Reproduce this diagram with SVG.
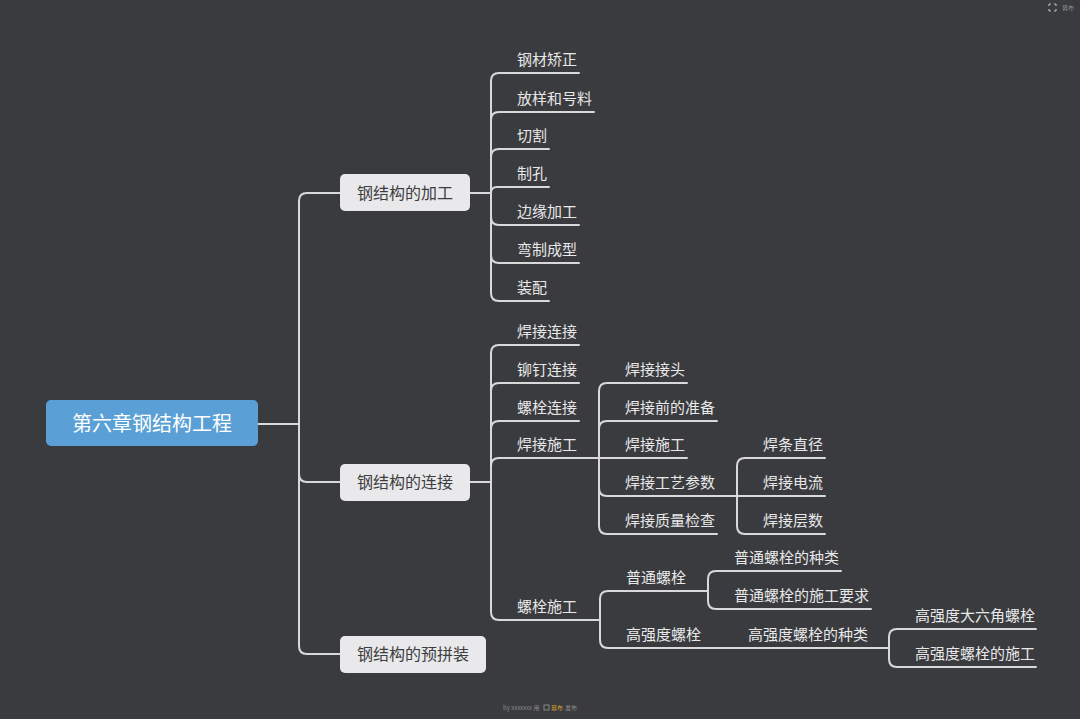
<svg xmlns="http://www.w3.org/2000/svg" width="1080" height="719" viewBox="0 0 1080 719">
<style>
.bg{fill:#3a3b3f}
.c{fill:none;stroke:#d9d9d9;stroke-width:2;stroke-linecap:round;stroke-linejoin:round}
.t{font-family:"Noto Sans CJK SC","Noto Sans",sans-serif;font-size:15px;fill:#e8e8e8}
.l1 rect{fill:#e9e9eb}
.l1 text{font-family:"Noto Sans CJK SC","Noto Sans",sans-serif;font-size:16px;fill:#3d3d3f;text-anchor:middle}
.wm{font-family:"Noto Sans CJK SC","Noto Sans",sans-serif;font-size:6px;fill:#8c8c8c}
</style>
<rect class="bg" x="0" y="0" width="1080" height="719"/>

<g id="connectors">
<!-- root to level 1 -->
<path class="c" d="M258 424 H299 V201 Q299 193 307 193 H340"/>
<path class="c" d="M258 424 H299 V474 Q299 482 307 482 H340"/>
<path class="c" d="M258 424 H299 V646 Q299 654 307 654 H340"/>
<!-- 钢结构的加工 -->
<path class="c" d="M470 193 H491 V81 Q491 73 499 73 H579"/>
<path class="c" d="M470 193 H491 V120 Q491 112 499 112 H594"/>
<path class="c" d="M470 193 H491 V157 Q491 149 499 149 H549"/>
<path class="c" d="M470 193 H491 V193 Q491 187 497 187 H549"/>
<path class="c" d="M470 193 H491 V217 Q491 225 499 225 H579"/>
<path class="c" d="M470 193 H491 V255 Q491 263 499 263 H579"/>
<path class="c" d="M470 193 H491 V293 Q491 301 499 301 H549"/>
<!-- 钢结构的连接 -->
<path class="c" d="M470 482 H491 V353 Q491 345 499 345 H579"/>
<path class="c" d="M470 482 H491 V391 Q491 383 499 383 H579"/>
<path class="c" d="M470 482 H491 V429 Q491 421 499 421 H579"/>
<path class="c" d="M470 482 H491 V466 Q491 458 499 458 H599"/>
<path class="c" d="M470 482 H491 V612 Q491 620 499 620 H600"/>
<!-- 焊接施工 -->
<path class="c" d="M599 458 V391 Q599 383 607 383 H687"/>
<path class="c" d="M599 458 V429 Q599 421 607 421 H717"/>
<path class="c" d="M599 458 H687"/>
<path class="c" d="M599 458 V488 Q599 496 607 496 H737"/>
<path class="c" d="M599 458 V526 Q599 534 607 534 H717"/>
<!-- 焊接工艺参数 -->
<path class="c" d="M737 496 V466 Q737 458 745 458 H825"/>
<path class="c" d="M737 496 H825"/>
<path class="c" d="M737 496 V526 Q737 534 745 534 H825"/>
<!-- 螺栓施工 -->
<path class="c" d="M600 620 V599 Q600 591 608 591 H708"/>
<path class="c" d="M600 620 V640 Q600 648 608 648 H722"/>
<!-- 普通螺栓 -->
<path class="c" d="M708 591 V579 Q708 571 716 571 H841"/>
<path class="c" d="M708 591 V601 Q708 609 716 609 H871"/>
<!-- 高强度螺栓 -->
<path class="c" d="M722 648 H889"/>
<!-- 高强度螺栓的种类 -->
<path class="c" d="M889 648 V637 Q889 629 897 629 H1036"/>
<path class="c" d="M889 648 V659 Q889 667 897 667 H1036"/>
</g>

<g id="root">
<rect x="46" y="400" width="212" height="46" rx="5" fill="#5a9fd6"/>
<text x="152" y="431" font-family="Noto Sans CJK SC, Noto Sans, sans-serif" font-size="20" fill="#ffffff" text-anchor="middle">第六章钢结构工程</text>
</g>

<g id="n-jiagong" class="l1"><rect x="340" y="174" width="130" height="37" rx="5"/><text x="405" y="199">钢结构的加工</text></g>
<g id="n-lianjie" class="l1"><rect x="340" y="464" width="130" height="37" rx="5"/><text x="405" y="488">钢结构的连接</text></g>
<g id="n-yupinzhuang" class="l1"><rect x="340" y="636" width="146" height="37" rx="5"/><text x="413" y="660">钢结构的预拼装</text></g>

<g id="n-a1"><text class="t" x="517" y="65">钢材矫正</text></g>
<g id="n-a2"><text class="t" x="517" y="104">放样和号料</text></g>
<g id="n-a3"><text class="t" x="517" y="141">切割</text></g>
<g id="n-a4"><text class="t" x="517" y="179">制孔</text></g>
<g id="n-a5"><text class="t" x="517" y="217">边缘加工</text></g>
<g id="n-a6"><text class="t" x="517" y="255">弯制成型</text></g>
<g id="n-a7"><text class="t" x="517" y="293">装配</text></g>

<g id="n-b1"><text class="t" x="517" y="337">焊接连接</text></g>
<g id="n-b2"><text class="t" x="517" y="375">铆钉连接</text></g>
<g id="n-b3"><text class="t" x="517" y="413">螺栓连接</text></g>
<g id="n-b4"><text class="t" x="517" y="450">焊接施工</text></g>
<g id="n-b5"><text class="t" x="517" y="612">螺栓施工</text></g>

<g id="n-c1"><text class="t" x="625" y="375">焊接接头</text></g>
<g id="n-c2"><text class="t" x="625" y="413">焊接前的准备</text></g>
<g id="n-c3"><text class="t" x="625" y="450">焊接施工</text></g>
<g id="n-c4"><text class="t" x="625" y="488">焊接工艺参数</text></g>
<g id="n-c5"><text class="t" x="625" y="526">焊接质量检查</text></g>

<g id="n-d1"><text class="t" x="763" y="450">焊条直径</text></g>
<g id="n-d2"><text class="t" x="763" y="488">焊接电流</text></g>
<g id="n-d3"><text class="t" x="763" y="526">焊接层数</text></g>

<g id="n-e1"><text class="t" x="626" y="583">普通螺栓</text></g>
<g id="n-e2"><text class="t" x="626" y="640">高强度螺栓</text></g>
<g id="n-f1"><text class="t" x="734" y="563">普通螺栓的种类</text></g>
<g id="n-f2"><text class="t" x="734" y="601">普通螺栓的施工要求</text></g>
<g id="n-g1"><text class="t" x="748" y="640">高强度螺栓的种类</text></g>
<g id="n-h1"><text class="t" x="915" y="621">高强度大六角螺栓</text></g>
<g id="n-h2"><text class="t" x="915" y="659">高强度螺栓的施工</text></g>

<g id="brand">
<g fill="none" stroke="#b8b8b8" stroke-width="1.2">
<path d="M1049 4 h2 M1049 4 v2 M1056 4 h-2 M1056 4 v2 M1049 11 h2 M1049 11 v-2 M1056 11 h-2 M1056 11 v-2"/>
</g>
<text class="wm" x="1062" y="10" font-size="7">幕布</text>
<text class="wm" x="503" y="710">by xxxxxxx 用</text>
<rect x="544" y="705" width="5" height="5" fill="none" stroke="#9a9a9a" stroke-width="0.8"/>
<text class="wm" x="551" y="710" fill="#d39a2a" style="fill:#d39a2a">幕布</text>
<text class="wm" x="565" y="710">发布</text>
</g>
</svg>
